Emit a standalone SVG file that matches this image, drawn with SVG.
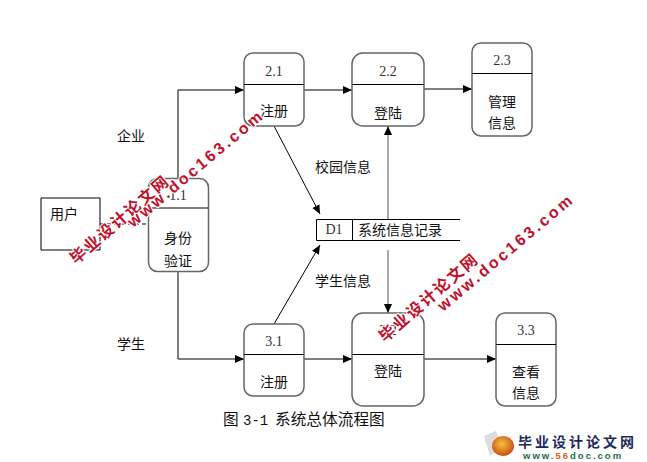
<svg xmlns="http://www.w3.org/2000/svg" width="647" height="462" viewBox="0 0 647 462">
<defs>
<marker id="a" markerUnits="userSpaceOnUse" markerWidth="10" markerHeight="10" refX="9" refY="4" orient="auto"><path d="M0 0L9 4L0 8Z" fill="#000"/></marker>
<radialGradient id="o" cx="0.45" cy="0.4" r="0.6"><stop offset="0" stop-color="#f6c040"/><stop offset="1" stop-color="#c8500f"/></radialGradient>
</defs>
<style>
.b{fill:#fff;stroke:#666;stroke-width:1.5}
.d{stroke:#000;stroke-width:1;fill:none}
.c{stroke:#000;stroke-width:1;fill:none;marker-end:url(#a)}
.g{stroke:#555;stroke-width:1;fill:none;marker-end:url(#a)}
text{font-family:"Noto Sans CJK SC","Noto Sans CJK JP",sans-serif;font-size:14px;fill:#111}
.n{font-family:"Liberation Serif",serif;font-size:14px;text-anchor:middle;fill:#333}
.m{text-anchor:middle}
.w1,.w2{font-weight:700;fill:#c0102a;stroke:#fff;stroke-width:2;paint-order:stroke;stroke-linejoin:round}
.w1{font-family:"Noto Sans CJK SC",sans-serif;font-size:16px;letter-spacing:2px}
.w2{font-family:"Liberation Sans",sans-serif;font-size:16px;letter-spacing:2.800px}
</style>
<rect width="647" height="462" fill="#fff"/>
<g id="connectors">
<path class="c" d="M178 178V90H244"/>
<path class="c" d="M178 272V359H244"/>
<path class="c" d="M304 90H352"/>
<path class="c" d="M424 89H472"/>
<path class="c" d="M424 359H496"/>
<path class="c" d="M304 359H352"/>
<path class="c" d="M274 126L320 214"/>
<path class="c" d="M274 324L320 245"/>
<path class="g" d="M388 219V126"/>
<path class="g" d="M388 250V313"/>
<path d="M100 224H148" stroke="#000" stroke-dasharray="4 3" fill="none"/>
</g>
<g id="user"><path d="M41 198H100V250H41Z" fill="#fff" stroke="#000"/><text x="50" y="219">用户</text></g>
<g id="n11"><rect class="b" x="148.500" y="178.500" width="60" height="93" rx="9"/><path class="d" d="M148 208H208"/><text class="n" x="178" y="200">1.1</text><text class="m" x="178" y="243">身份</text><text class="m" x="178" y="266">验证</text></g>
<g id="n21"><rect class="b" x="244" y="53" width="60" height="73" rx="9"/><path class="d" d="M244 84.500H304"/><text class="n" x="274" y="76">2.1</text><text class="m" x="274" y="116">注册</text></g>
<g id="n22"><rect class="b" x="352" y="53" width="72" height="73" rx="11"/><path class="d" d="M352 84.500H424"/><text class="n" x="388" y="76">2.2</text><text class="m" x="388" y="118">登陆</text></g>
<g id="n23"><rect class="b" x="472" y="43" width="60" height="93" rx="9"/><path class="d" d="M472 73.500H532"/><text class="n" x="502" y="65">2.3</text><text class="m" x="502" y="107">管理</text><text class="m" x="502" y="128">信息</text></g>
<g id="d1"><path class="d" d="M460 219.500H316.500V240.500H460M352.500 219.500V240.500"/><text class="n" x="334" y="234">D1</text><text x="358" y="235">系统信息记录</text></g>
<g id="n31"><rect class="b" x="244" y="324" width="60" height="72" rx="9"/><path class="d" d="M244 354.500H304"/><text class="n" x="274" y="346">3.1</text><text class="m" x="274" y="387">注册</text></g>
<g id="n32"><rect class="b" x="352" y="313" width="72" height="93" rx="11"/><path class="d" d="M352 354.500H424"/><text class="n" x="388" y="335">3.2</text><text class="m" x="388" y="376">登陆</text></g>
<g id="n33"><rect class="b" x="496" y="313" width="60" height="93" rx="9"/><path class="d" d="M496 344.500H556"/><text class="n" x="526" y="335">3.3</text><text class="m" x="526" y="377">查看</text><text class="m" x="526" y="398">信息</text></g>
<text x="117" y="141">企业</text>
<text x="117" y="349">学生</text>
<text x="315" y="172">校园信息</text>
<text x="315" y="286">学生信息</text>
<text x="223" y="425" style="font-size:15.700px">图<tspan x="243" style="font-family:'Liberation Mono',monospace;font-size:14px">3-1</tspan><tspan x="275">系统总体流程图</tspan></text>
<g id="watermarks">
<text class="w1" transform="translate(76 265) rotate(-41)">毕业设计论文网</text>
<text class="w2" transform="translate(133 228) rotate(-40)">www.doc163.com</text>
<text class="w1" transform="translate(385 343) rotate(-41)">毕业设计论文网</text>
<text class="w2" transform="translate(443 312) rotate(-40)">www.doc163.com</text>
</g>
<g id="logo">
<path d="M484 436L496 431L502 448L490 456Z" fill="#ddd"/>
<ellipse cx="503" cy="446" rx="11" ry="10" fill="url(#o)"/>
<text x="518" y="447" style="font-size:14px;font-weight:700;letter-spacing:3px;fill:#1d2a5c">毕业设计论文网</text>
<text x="523" y="459" style="font-family:'Liberation Sans',sans-serif;font-size:9.500px;font-weight:700;letter-spacing:2px;fill:#1f6d4a">www.<tspan fill="#d9601a">56</tspan>doc.com</text>
</g>
</svg>
